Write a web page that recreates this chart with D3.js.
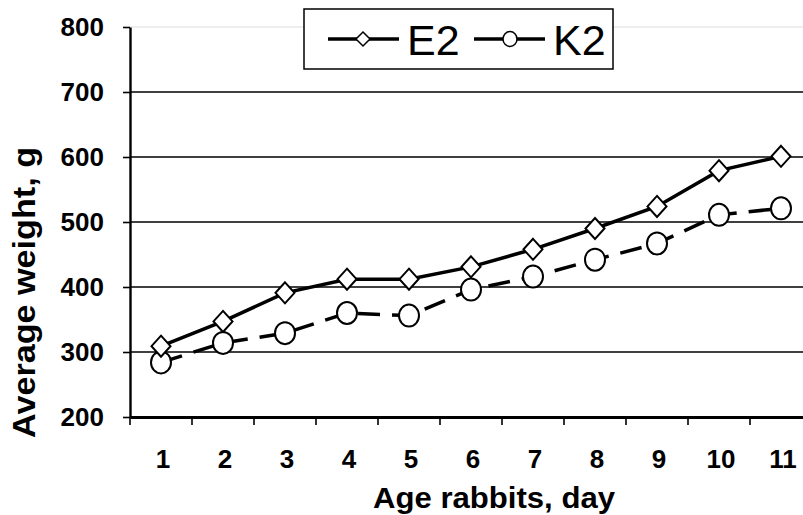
<!DOCTYPE html>
<html><head><meta charset="utf-8">
<script src="https://cdn.jsdelivr.net/npm/d3@7"></script>
<style>body{margin:0;background:#fff}svg{display:block}</style>
</head><body>
<svg id="c" width="803" height="515"></svg>
<script>
const days = [1,2,3,4,5,6,7,8,9,10,11];
const e2 = [309,347,391,412,412,431,458,490,524,579,601];
const k2 = [284,314,329,360,356,396,416,442,467,511,521];
const yTicks = [200,300,400,500,600,700,800];
const seriesNames = ["E2","K2"];

const svg = d3.select("#c");
const font = "Liberation Sans, Arial, sans-serif";
const x = d3.scaleBand().domain(days).range([130, 812]);
const y = d3.scaleLinear().domain([200, 800]).range([417, 27]);
const cx = d => x(d) + x.bandwidth()/2;

// gridlines
svg.append("g").selectAll("line").data(yTicks.filter(t => t > 200)).join("line")
  .attr("x1", 130).attr("x2", 812).attr("y1", d => y(d)).attr("y2", d => y(d))
  .attr("stroke", d => d === 800 ? "#e8e8e8" : "#000").attr("stroke-width", 1.6);

// y axis
const ya = svg.append("g").attr("transform", "translate(130,0)")
  .call(d3.axisLeft(y).tickValues(yTicks).tickSize(7).tickSizeOuter(0).tickPadding(19).tickFormat(d3.format("d")));
ya.select(".domain").attr("stroke-width", 2.4).attr("stroke", "#000");
ya.selectAll(".tick line").attr("stroke-width", 1.6);
ya.selectAll("text").attr("font-family", font).attr("font-weight", "bold")
  .attr("font-size", 26).attr("fill", "#000");

// x axis
const xa = svg.append("g").attr("transform", "translate(0,417)")
  .call(d3.axisBottom(x).tickSize(0).tickSizeOuter(0).tickPadding(33));
xa.select(".domain").attr("stroke-width", 3).attr("stroke", "#000");
xa.selectAll("text").attr("font-family", font).attr("font-weight", "bold")
  .attr("font-size", 26).attr("fill", "#000").attr("dx", 2);
// boundary ticks
svg.append("g").selectAll("line").data(days).join("line")
  .attr("x1", d => x(d)).attr("x2", d => x(d)).attr("y1", 417).attr("y2", 425)
  .attr("stroke", "#000").attr("stroke-width", 1.6);

// lines
const line = d3.line().x((d,i) => cx(days[i])).y(d => y(d));
svg.append("path").datum(k2).attr("d", line).attr("fill", "none")
  .attr("stroke", "#000").attr("stroke-width", 3.5).attr("stroke-dasharray", "22,12");
svg.append("path").datum(e2).attr("d", line).attr("fill", "none")
  .attr("stroke", "#000").attr("stroke-width", 3.5);

// markers
svg.append("g").selectAll("ellipse").data(k2).join("ellipse")
  .attr("cx", (d,i) => cx(days[i])).attr("cy", d => y(d)).attr("rx", 10).attr("ry", 11)
  .attr("fill", "#fff").attr("stroke", "#000").attr("stroke-width", 2);
const diamond = "M0,-10.5L9.5,0L0,10.5L-9.5,0Z";
svg.append("g").selectAll("path").data(e2).join("path")
  .attr("d", diamond).attr("transform", (d,i) => `translate(${cx(days[i])},${y(d)})`)
  .attr("fill", "#fff").attr("stroke", "#000").attr("stroke-width", 2);

// axis titles
svg.append("text").attr("x", 494).attr("y", 508).attr("text-anchor", "middle")
  .attr("font-family", font).attr("font-weight", "bold").attr("font-size", 30)
  .attr("textLength", 242).attr("lengthAdjust", "spacingAndGlyphs")
  .text("Age rabbits, day");
svg.append("text").attr("transform", "translate(35,292.5) rotate(-90)").attr("text-anchor", "middle")
  .attr("font-family", font).attr("font-weight", "bold").attr("font-size", 31)
  .attr("textLength", 291).attr("lengthAdjust", "spacingAndGlyphs")
  .text("Average weight, g");

// legend
const lg = svg.append("g");
lg.append("rect").attr("x", 304).attr("y", 9).attr("width", 309).attr("height", 60)
  .attr("fill", "#fff").attr("stroke", "#000").attr("stroke-width", 1.5);
const legX = [328, 474];
seriesNames.forEach((n, i) => {
  const g = lg.append("g").attr("transform", `translate(${legX[i]},39)`);
  g.append("line").attr("x1", 0).attr("x2", 71).attr("stroke", "#000").attr("stroke-width", 3.5);
  if (i === 0) g.append("path").attr("d", "M0,-7L7,0L0,7L-7,0Z").attr("transform", "translate(35,0)")
    .attr("fill", "#fff").attr("stroke", "#000").attr("stroke-width", 1.5);
  else g.append("ellipse").attr("cx", 36).attr("rx", 7).attr("ry", 7.5)
    .attr("fill", "#fff").attr("stroke", "#000").attr("stroke-width", 1.5);
  g.append("text").attr("x", 79).attr("y", 16).attr("font-family", font)
    .attr("font-size", 43).text(n);
});
</script>
</body></html>
